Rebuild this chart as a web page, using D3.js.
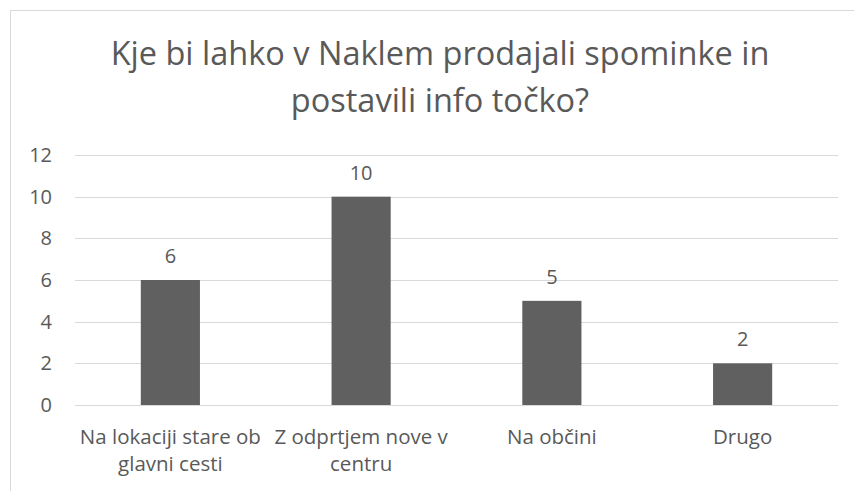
<!DOCTYPE html>
<html>
<head>
<meta charset="utf-8">
<script src="https://cdn.jsdelivr.net/npm/d3@7"></script>
<style>
  body { margin: 0; background: #fff; }
  text { font-family: "Open Sans", sans-serif; fill: #595959; }
</style>
</head>
<body>
<div id="chart"></div>
<script>
var svgWidth = 854;
var svgHeight = 491;

// data
var categories = ["Na lokaciji stare ob\nglavni cesti", "Z odprtjem nove v\ncentru", "Na občini", "Drugo"];
var values = [6, 10, 5, 2];
var yTicks = [0, 2, 4, 6, 8, 10, 12];
var titleLines = ["Kje bi lahko v Naklem prodajali spominke in", "postavili info točko?"];

var margin = { top: 155, right: 16, bottom: 86, left: 75 };
var width = svgWidth - margin.left - margin.right;
var height = svgHeight - margin.top - margin.bottom;

var svg = d3.select("#chart").append("svg")
  .attr("width", svgWidth)
  .attr("height", svgHeight);

// chart area border (right and bottom edges fall outside the picture)
svg.append("rect")
  .attr("x", 10.5).attr("y", 10.5)
  .attr("width", 900).attr("height", 600)
  .attr("fill", "none")
  .attr("stroke", "#d9d9d9");

// title
svg.append("g").selectAll("text")
  .data(titleLines)
  .enter()
  .append("text")
  .attr("x", 440)
  .attr("y", (d, i) => 65 + i * 47)
  .attr("text-anchor", "middle")
  .attr("font-size", "32.5px")
  .text(d => d);

var chartGroup = svg.append("g")
  .attr("transform", `translate(${margin.left}, ${margin.top})`);

var xScale = d3.scaleBand()
  .domain(categories)
  .range([0, width])
  .paddingInner(0.69)
  .paddingOuter(0.345);

var yScale = d3.scaleLinear()
  .domain([0, 12])
  .range([height, 0]);

// gridlines
chartGroup.append("g")
  .selectAll("line")
  .data(yTicks)
  .enter()
  .append("line")
  .attr("x1", 0)
  .attr("x2", width)
  .attr("y1", d => Math.round(yScale(d)) + 0.5)
  .attr("y2", d => Math.round(yScale(d)) + 0.5)
  .attr("stroke", "#d9d9d9")
  .attr("stroke-width", 1);

// y axis labels
var leftAxis = d3.axisLeft(yScale).tickValues(yTicks).tickSize(0).tickPadding(23);
var yAxis = chartGroup.append("g").call(leftAxis);
yAxis.select(".domain").remove();
yAxis.attr("font-size", null).attr("font-family", null);
yAxis.selectAll("text")
  .style("font-size", "20px")
  .attr("fill", "#595959");

// bars
chartGroup.selectAll("rect.bar")
  .data(values)
  .enter()
  .append("rect")
  .attr("class", "bar")
  .attr("x", (d, i) => xScale(categories[i]))
  .attr("y", d => yScale(d))
  .attr("width", xScale.bandwidth())
  .attr("height", d => height - yScale(d))
  .attr("fill", "#606060");

// data labels
chartGroup.selectAll("text.value")
  .data(values)
  .enter()
  .append("text")
  .attr("class", "value")
  .attr("x", (d, i) => xScale(categories[i]) + xScale.bandwidth() / 2)
  .attr("y", d => yScale(d) - 17)
  .attr("text-anchor", "middle")
  .style("font-size", "20px")
  .text(d => d);

// category labels
var catGroup = chartGroup.selectAll("g.cat")
  .data(categories)
  .enter()
  .append("g")
  .attr("class", "cat")
  .attr("transform", d => `translate(${xScale(d) + xScale.bandwidth() / 2}, ${height + 39})`);

catGroup.selectAll("text")
  .data(d => d.split("\n"))
  .enter()
  .append("text")
  .attr("x", 0)
  .attr("y", (d, i) => i * 27)
  .attr("text-anchor", "middle")
  .style("font-size", "20.5px")
  .text(d => d);
</script>
</body>
</html>
